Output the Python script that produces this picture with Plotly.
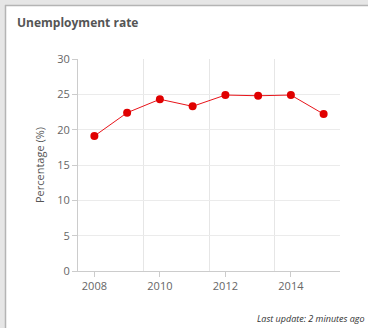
import plotly.graph_objects as go

years = [2008, 2009, 2010, 2011, 2012, 2013, 2014, 2015]
rate = [19.1, 22.4, 24.3, 23.3, 24.9, 24.8, 24.9, 22.2]
x_ticks = [2008, 2010, 2012, 2014]
y_ticks = [0, 5, 10, 15, 20, 25, 30]

fig = go.Figure()
fig.add_trace(go.Scatter(
    x=years, y=rate, mode="lines+markers",
    line=dict(color="#e8141a", width=1),
    marker=dict(color="#e00000", size=8),
    showlegend=False, hoverinfo="x+y",
))

# window frame: gray strip plus border on top and left
fig.add_shape(type="rect", xref="paper", yref="paper", x0=-78/262, x1=290/262, y0=1 + 54/212, y1=1 + 59/212,
              fillcolor="#e6e6e6", line_width=0, layer="below")
fig.add_shape(type="rect", xref="paper", yref="paper", x0=-78/262, x1=-73/262, y0=-57/212, y1=1 + 59/212,
              fillcolor="#e6e6e6", line_width=0, layer="below")
fig.add_shape(type="line", xref="paper", yref="paper", x0=-73/262, x1=290/262, y0=1 + 53.5/212, y1=1 + 53.5/212,
              line=dict(color="#b4b4b4", width=1.5))
fig.add_shape(type="line", xref="paper", yref="paper", x0=-72.5/262, x1=-72.5/262, y0=-57/212, y1=1 + 54/212,
              line=dict(color="#b4b4b4", width=1.5))

fig.add_annotation(text="<b>Unemployment rate</b>", xref="paper", yref="paper",
                   x=-63/262, y=1 + 37/212, xanchor="left", yanchor="middle", showarrow=False,
                   font=dict(family="Open Sans", size=12, color="#555555"))
fig.add_annotation(text="<i>Last update: 2 minutes ago</i>", xref="paper", yref="paper",
                   x=289/262, y=-47/212, xanchor="right", yanchor="middle", showarrow=False,
                   font=dict(family="Open Sans", size=9, color="#333333"))

fig.update_layout(
    width=368, height=328,
    margin=dict(l=78, r=28, t=59, b=57),
    paper_bgcolor="white", plot_bgcolor="white",
    font=dict(family="Open Sans", size=11, color="#666666"),
    xaxis=dict(
        range=[2007.5, 2015.5], tickvals=x_ticks, ticks="outside", ticklen=5,
        tickcolor="#cccccc", showgrid=False, showline=True, linecolor="#cccccc",
        zeroline=False, fixedrange=True,
        minor=dict(tick0=2007.5, dtick=2, showgrid=True, gridcolor="#e6e6e6", ticks=""),
    ),
    yaxis=dict(
        range=[0, 30], tickvals=y_ticks, ticks="outside", ticklen=5,
        tickcolor="#cccccc", showline=True, linecolor="#cccccc",
        gridcolor="#ebebeb", zeroline=False, fixedrange=True,
        title=dict(text="Percentage (%)", font=dict(size=11, color="#555555"), standoff=10),
    ),
)

fig.write_html("out.html", config={"displayModeBar": False},
               post_script="document.body.style.margin='0';")
